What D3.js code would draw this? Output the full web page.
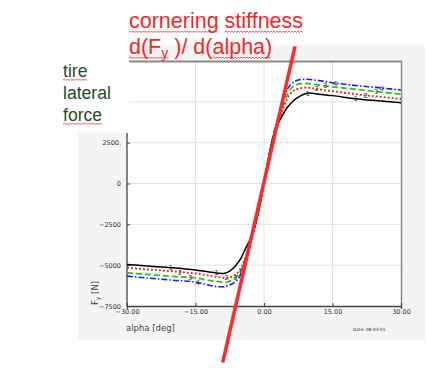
<!DOCTYPE html>
<html><head><meta charset="utf-8">
<script src="https://cdn.jsdelivr.net/npm/d3@7"></script>
<style>html,body{margin:0;padding:0;background:#fff;}svg{display:block;}</style>
</head><body>
<svg id="c" width="427" height="368"></svg>
<script>
// ---- data ----
const alphaGrid = [-30,-25,-20,-15,-12,-10,-9,-8,-7,-6,-5,-4,-3,-2,-1,0,1,2,3,4,5,6,7,8,9,10,12,15,20,25,30];
const fyCurve1 = [-4960,-5060,-5160,-5300,-5420,-5490,-5510,-5440,-5250,-4960,-4550,-3950,-3400,-2650,-1450,0,1550,2800,3600,4150,4620,4950,5200,5370,5500,5540,5470,5380,5190,5060,4940];
const fyCurve2 = [-5160,-5270,-5380,-5510,-5640,-5730,-5770,-5780,-5700,-5530,-5150,-4450,-3500,-2600,-1400,0,1550,2850,3700,4450,5150,5580,5750,5840,5870,5860,5770,5650,5470,5320,5180];
const fyCurve3 = [-5470,-5580,-5690,-5780,-5930,-6010,-6040,-6020,-5900,-5700,-5300,-4550,-3550,-2600,-1400,0,1550,2900,3800,4650,5400,5830,6030,6110,6130,6120,6030,5920,5770,5610,5470];
const fyCurve4 = [-5670,-5800,-5920,-6040,-6230,-6320,-6320,-6260,-6150,-5950,-5500,-4650,-3600,-2650,-1400,0,1550,2950,3950,4900,5700,6100,6290,6370,6380,6370,6300,6170,6000,5870,5720];
const curveIds = ["1","2","3","4"];
const labelAlphas1 = [-20.4,-10.4,9.6,20.1];
const labelAlphas2 = [-18.4,-8.2,11.5,22.3];
const labelAlphas3 = [-16.2,-6.3,13.4,24.5];
const labelAlphas4 = [-14.5,-4.9,15.6,25.8];
const xTicks = [-30,-15,0,15,30];
const xTickLabels = ["\u221230.00","\u221215.00","0.00","15.00","30.00"];
const yTicks = [-7500,-5000,-2500,0,2500];
const yTickLabels = ["\u22127500","\u22125000","\u22122500","0","2500."];
const yGrid = [-5000,-2500,0,2500,5000];
const xGrid = [-15,0,15];
const tangentAlpha = [-9.04, 6.79];
const tangentFy = [-10960, 8390];
const titleLine1 = "cornering stiffness";
const sideText = ["tire","lateral","force"];

// ---- layout ----
const svg = d3.select("#c");
const x = d3.scaleLinear().domain([-30,30]).range([127,401]);
const y = d3.scaleLinear().domain([-7500,7500]).range([306,61]);

// panel background
svg.append("rect").attr("x",78).attr("y",45).attr("width",347).attr("height",295).attr("fill","#f4f4f4");
svg.append("rect").attr("x",127).attr("y",61).attr("width",274).attr("height",245).attr("fill","#fff");

// grid
svg.append("g").selectAll("line").data(yGrid).join("line")
  .attr("x1",127).attr("x2",401).attr("y1",d=>y(d)).attr("y2",d=>y(d))
  .attr("stroke","#e2e2e2").attr("stroke-width",1);
svg.append("g").selectAll("line").data(xGrid).join("line")
  .attr("y1",61).attr("y2",306).attr("x1",d=>x(d)).attr("x2",d=>x(d))
  .attr("stroke","#e2e2e2").attr("stroke-width",1);

// borders
svg.append("line").attr("x1",127).attr("x2",402).attr("y1",61.5).attr("y2",61.5).attr("stroke","#8a8a8a").attr("stroke-width",2);
svg.append("line").attr("x1",401.5).attr("x2",401.5).attr("y1",61).attr("y2",306).attr("stroke","#8a8a8a").attr("stroke-width",1.5);

// axes
const xAxis = d3.axisBottom(x).tickValues(xTicks).tickSize(3).tickFormat((d,i)=>xTickLabels[i]);
const gx = svg.append("g").attr("transform","translate(0,306)").call(xAxis);
gx.select(".domain").attr("stroke","#444").attr("stroke-width",1.3);
gx.selectAll(".tick line").attr("stroke","#444").attr("y2",-3);
gx.selectAll("text").attr("font-family","DejaVu Sans").attr("font-size",6.5).attr("fill","#333").attr("dy","0.5em").attr("y",5);

const yAxis = d3.axisLeft(y).tickValues(yTicks).tickSize(3).tickFormat((d,i)=>yTickLabels[i]);
const gy = svg.append("g").attr("transform","translate(127,0)").call(yAxis);
gy.select(".domain").remove();
gy.selectAll(".tick line").attr("stroke","#444").attr("x2",3).attr("x1",0);
gy.selectAll("text").attr("font-family","DejaVu Sans").attr("font-size",6.5).attr("fill","#333").attr("x",-6);
svg.append("line").attr("x1",127).attr("x2",127).attr("y1",133).attr("y2",306.5).attr("stroke","#444").attr("stroke-width",1.3);

// curves
const series = [
  {id:curveIds[0], v:fyCurve1, labels:labelAlphas1, color:"#000000", dash:null, w:1.5},
  {id:curveIds[1], v:fyCurve2, labels:labelAlphas2, color:"#f02020", dash:"2,2", w:1.8},
  {id:curveIds[2], v:fyCurve3, labels:labelAlphas3, color:"#20c820", dash:"6,3", w:1.8},
  {id:curveIds[3], v:fyCurve4, labels:labelAlphas4, color:"#1a1aff", dash:"6,2,1.5,2", w:1.6}
];
const line = d3.line().x(d=>x(d[0])).y(d=>y(d[1])).curve(d3.curveMonotoneX);
const gc = svg.append("g");
series.slice().reverse().forEach(s=>{
  const pts = alphaGrid.map((a,i)=>[a,s.v[i]]);
  gc.append("path").attr("d",line(pts)).attr("fill","none").attr("stroke",s.color)
    .attr("stroke-width",s.w).attr("stroke-dasharray",s.dash);
});
series.forEach(s=>{
  const interp = d3.scaleLinear().domain(alphaGrid).range(s.v);
  s.labels.forEach(a=>{
    gc.append("text").attr("x",x(a)).attr("y",y(interp(a))+2.5).attr("text-anchor","middle")
      .attr("font-family","DejaVu Sans").attr("font-size",7).attr("fill","#333").text(s.id);
  });
});

// axis titles
const ft = svg.append("text").attr("transform","translate(98,293) rotate(-90)").attr("text-anchor","middle")
  .attr("font-family","DejaVu Sans").attr("font-size",8.5).attr("fill","#444");
ft.append("tspan").text("F");
ft.append("tspan").attr("font-size",6).attr("dy",2).text("y");
ft.append("tspan").attr("dy",-2).text(" [N]");
svg.append("text").attr("x",126).attr("y",331).attr("font-family","DejaVu Sans").attr("font-size",8.5)
  .attr("fill","#444").text("alpha [deg]");
svg.append("text").attr("x",353).attr("y",331).attr("font-family","DejaVu Sans").attr("font-size",4.3)
  .attr("fill","#333").text("Date: 08-03-01");

// white box with side text
svg.append("rect").attr("x",0).attr("y",0).attr("width",129).attr("height",133).attr("fill","#fff");
svg.append("rect").attr("x",0).attr("y",0).attr("width",427).attr("height",45).attr("fill","#fff");

function squiggle(x0,x1,yy,color){
  let d = `M${x0},${yy}`; let up=true;
  for(let xx=x0+1.5; xx<=x1; xx+=1.5){ d += `L${xx},${up?yy-1:yy+0.5}`; up=!up; }
  svg.append("path").attr("d",d).attr("fill","none").attr("stroke",color).attr("stroke-width",0.8);
}
function underlineWords(textNode, words, yy, color){
  const full = textNode.textContent;
  words.forEach(w=>{
    const i = full.indexOf(w);
    const x0 = textNode.getStartPositionOfChar(i).x;
    const x1 = textNode.getEndPositionOfChar(i+w.length-1).x;
    squiggle(x0,x1,yy,color);
  });
}

const sideColor = "#1f4d1f";
const sideYs = [77,99,121];
sideText.forEach((t,i)=>{
  const tn = svg.append("text").attr("x",63).attr("y",sideYs[i]).attr("font-family","Liberation Sans, Arial")
    .attr("font-size",17.6).attr("fill",sideColor).text(t);
  if(t!=="lateral") underlineWords(tn.node(),[t],sideYs[i]+3,"#e03030");
});

// tangent line
svg.append("line").attr("x1",x(tangentAlpha[0])).attr("y1",y(tangentFy[0]))
  .attr("x2",x(tangentAlpha[1])).attr("y2",y(tangentFy[1]))
  .attr("stroke","#ff2a2a").attr("stroke-width",3.5);

// title
const t1 = svg.append("text").attr("x",129).attr("y",28).attr("font-family","Liberation Sans, Arial")
  .attr("font-size",21.5).attr("fill","#f02828").text(titleLine1);
underlineWords(t1.node(),["cornering","stiffness"],32,"#e03030");
const t2 = svg.append("text").attr("x",129).attr("y",54).attr("font-family","Liberation Sans, Arial")
  .attr("font-size",21.5).attr("fill","#f02828");
t2.append("tspan").text("d(F");
t2.append("tspan").attr("font-size",14).attr("dy",4).text("y");
t2.append("tspan").attr("dy",-4).text(" )/ d(alpha)");
underlineWords(t2.node(),["d(Fy","alpha)"],58,"#e03030");
</script>
</body></html>
